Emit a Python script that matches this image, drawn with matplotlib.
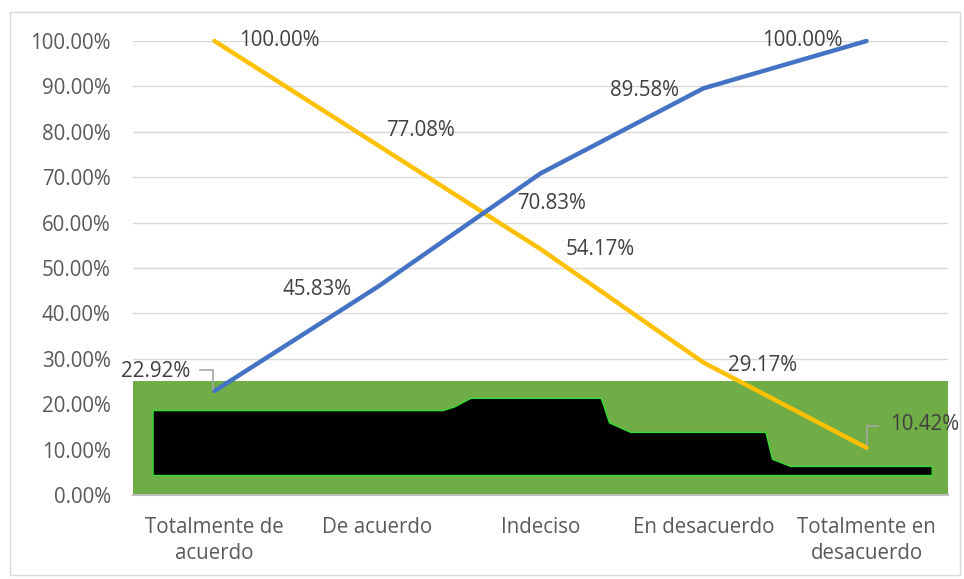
import matplotlib.pyplot as plt
from matplotlib.patches import Rectangle

categorias = ["Totalmente de\nacuerdo", "De acuerdo", "Indeciso", "En desacuerdo", "Totalmente en\ndesacuerdo"]
acumulado = [22.92, 45.83, 70.83, 89.58, 100.00]
descendente = [100.00, 77.08, 54.17, 29.17, 10.42]

# black stepped shape inside the green band
forma_x = [-0.38, 1.40, 1.47, 1.57, 2.37, 2.42, 2.55, 3.38, 3.42, 3.53, 4.40]
forma_top = [18.7, 18.7, 19.5, 21.4, 21.4, 16.0, 13.9, 13.9, 8.0, 6.4, 6.4]
forma_bottom = 4.4

plt.rcParams["font.family"] = ["Open Sans", "DejaVu Sans"]
gris = "#595959"
fs = 14.8

fig = plt.figure(figsize=(9.64, 5.79), dpi=100)
ax = fig.add_axes([133 / 964, 1 - 495 / 579, 815 / 964, 454 / 579])
fig.patches.append(Rectangle((10 / 964, 4 / 579), 950 / 964, 563 / 579, transform=fig.transFigure,
                             fill=False, edgecolor="#d9d9d9", linewidth=1))

x = range(len(categorias))
ax.set_xlim(-0.5, 4.5)
ax.set_ylim(0, 100)

# green band + black shape
ax.add_patch(Rectangle((-0.5, 0), 5, 25.1, facecolor="#70ad47", edgecolor="none", zorder=1))
ax.fill_between(forma_x, forma_bottom, forma_top, color="black", edgecolor="#33dd33", linewidth=1, zorder=2)

ax.plot(x, acumulado, color="#4472c4", linewidth=3.2, solid_capstyle="round", zorder=4, clip_on=False)
ax.plot(x, descendente, color="#ffc000", linewidth=3.2, solid_capstyle="round", zorder=3, clip_on=False)

# data labels
offs_azul = [(-0.36, 4.2), (-0.37, -0.6), (0.07, -6.7), (-0.36, -0.4), (-0.395, 0)]
for i, v in enumerate(acumulado):
    dx, dy = offs_azul[i]
    ax.text(i + dx, v + dy, f"{v:.2f}%", ha="center", va="center", fontsize=fs, color="#404040", zorder=5)
offs_amar = [(0.395, 0), (0.266, 3.3), (0.365, 0), (0.36, -0.6), (0.36, 5)]
for i, v in enumerate(descendente):
    dx, dy = offs_amar[i]
    ax.text(i + dx, v + dy, f"{v:.2f}%", ha="center", va="center", fontsize=fs, color="#404040", zorder=5)

# leader lines
ax.plot([-0.01, -0.01, -0.09], [23.3, 27.5, 27.5], color="#a6a6a6", linewidth=1.2, zorder=5)
ax.plot([4.0, 4.0, 4.07], [11.0, 15.2, 15.2], color="#a6a6a6", linewidth=1.2, zorder=5)

ax.set_yticks([i * 10 for i in range(11)])
ax.set_yticklabels([f"{i * 10:.2f}%" for i in range(11)])
ax.set_xticks(list(x))
ax.set_xticklabels(categorias, linespacing=1.3)
ax.tick_params(axis="both", length=0, labelsize=fs, labelcolor=gris)
ax.tick_params(axis="y", pad=16)
ax.tick_params(axis="x", pad=16)
ax.grid(axis="y", color="#d9d9d9", linewidth=1)
ax.set_axisbelow(True)
for s in ["top", "right", "left"]:
    ax.spines[s].set_visible(False)
ax.spines["bottom"].set_color("#bfbfbf")
ax.spines["bottom"].set_linewidth(1.5)

plt.savefig("out.png", dpi=100)
